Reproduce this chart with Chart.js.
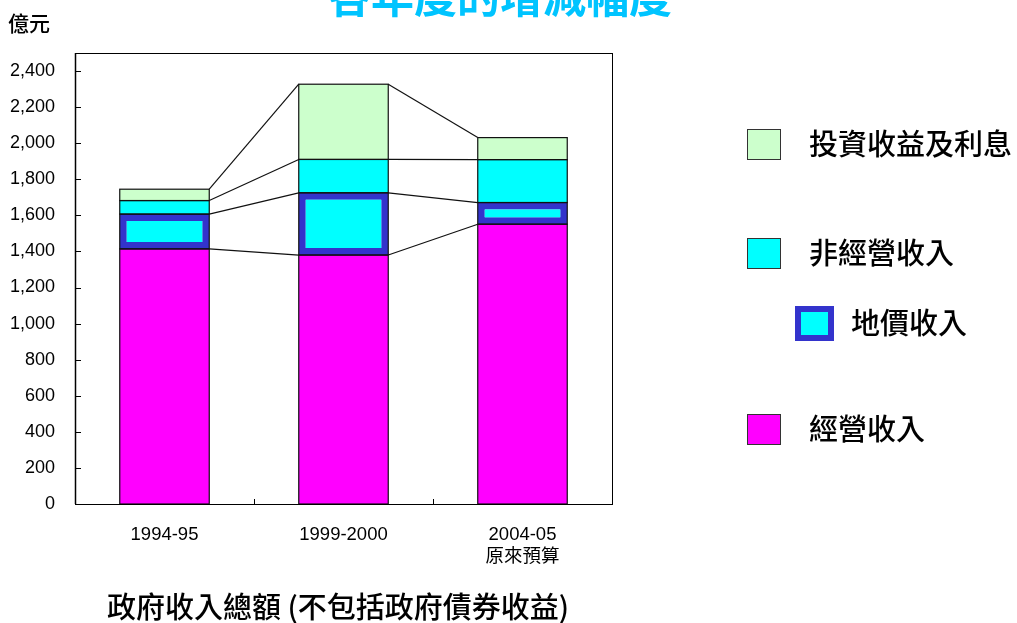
<!DOCTYPE html>
<html>
<head>
<meta charset="utf-8">
<script src="https://cdn.jsdelivr.net/npm/chart.js@4.4.0/dist/chart.umd.min.js"></script>
<style>
  html, body { margin: 0; padding: 0; background: #fff; overflow: hidden; }
</style>
</head>
<body>
<canvas id="chart" width="1017" height="623"></canvas>
<script>
// 數據 (億元)
const categories = [['1994-95'], ['1999-2000'], ['2004-05', '原來預算']];
const operatingRevenue = [1414, 1380, 1551];
const landPremium = [193, 345, 120];
const nonOperatingRevenue = [75, 185, 238];
const investmentIncome = [63, 417, 122];
const yTicks = [0, 200, 400, 600, 800, 1000, 1200, 1400, 1600, 1800, 2000, 2200, 2400];
const yMax = 2500;

const chartTitle = '各年度的增減幅度';
const yUnit = '億元';
const xTitle = '政府收入總額 (不包括政府債券收益)';

const CJK = '"Noto Sans CJK TC", "Noto Sans CJK SC", sans-serif';
const LATIN = '"Liberation Sans", Arial, "Noto Sans CJK TC", sans-serif';

// 框線及刻度
const framePlugin = {
  id: 'frame',
  afterDraw(chart) {
    const { ctx, chartArea: a, scales } = chart;
    ctx.save();
    ctx.strokeStyle = '#000';
    ctx.lineWidth = 1;
    ctx.strokeRect(a.left + 0.5, a.top + 0.5, a.right - a.left, a.bottom - a.top);
    ctx.beginPath();
    ctx.lineWidth = 1.5;
    ctx.moveTo(a.left + 0.5, a.top);
    ctx.lineTo(a.left + 0.5, a.bottom);
    ctx.stroke();

    ctx.lineWidth = 1;
    ctx.beginPath();
    scales.y.ticks.forEach(t => {
      if (t.value === 0) return;
      const y = Math.round(scales.y.getPixelForValue(t.value)) + 0.5;
      ctx.moveTo(a.left, y);
      ctx.lineTo(a.left + 6, y);
    });
    for (let i = 0; i < categories.length - 1; i++) {
      const x = Math.round((scales.x.getPixelForValue(i) + scales.x.getPixelForValue(i + 1)) / 2) + 0.5;
      ctx.moveTo(x, a.bottom);
      ctx.lineTo(x, a.bottom - 5);
    }
    ctx.stroke();
    ctx.restore();
  }
};

// 連接線及柱邊
const connectorPlugin = {
  id: 'connectors',
  afterDatasetsDraw(chart) {
    const { ctx } = chart;
    ctx.save();
    ctx.strokeStyle = '#111';
    ctx.lineWidth = 1.2;
    chart.data.datasets.forEach((ds, d) => {
      const bars = chart.getDatasetMeta(d).data;
      for (let i = 0; i < bars.length - 1; i++) {
        const a = bars[i], b = bars[i + 1];
        ctx.beginPath();
        ctx.moveTo(a.x + a.width / 2, a.y);
        ctx.lineTo(b.x - b.width / 2, b.y);
        ctx.stroke();
      }
      bars.forEach(bar => {
        ctx.strokeRect(bar.x - bar.width / 2, bar.y, bar.width, bar.base - bar.y);
      });
    });
    ctx.restore();
  }
};

// 標題、單位及圖例
const textPlugin = {
  id: 'texts',
  afterDraw(chart) {
    const { ctx } = chart;
    ctx.save();
    ctx.textBaseline = 'middle';

    ctx.fillStyle = '#00c4ff';
    ctx.font = 'bold 43px ' + CJK;
    ctx.textAlign = 'center';
    ctx.fillText(chartTitle, 500, -3);

    ctx.fillStyle = '#000';
    ctx.font = '500 21px ' + CJK;
    ctx.textAlign = 'left';
    ctx.fillText(yUnit, 8, 23);

    ctx.font = '500 29px ' + CJK;
    ctx.textAlign = 'center';
    ctx.fillText(xTitle, 338, 607);

    const legendPos = [
      { d: 3, box: [747, 129, 33, 30], tx: 809, ty: 144 },
      { d: 2, box: [747, 238, 33, 30], tx: 809, ty: 253 },
      { d: 1, box: [795, 306, 39, 35], tx: 851, ty: 323 },
      { d: 0, box: [747, 414, 33, 30], tx: 809, ty: 429 }
    ];
    ctx.textAlign = 'left';
    ctx.font = '500 29px ' + CJK;
    legendPos.forEach(p => {
      const ds = chart.data.datasets[p.d];
      const [x, y, w, h] = p.box;
      if (p.d === 1) {
        ctx.fillStyle = ds.borderColor;
        ctx.fillRect(x, y, w, h);
        ctx.fillStyle = ds.backgroundColor;
        ctx.fillRect(x + 6, y + 6, w - 12, h - 12);
      } else {
        ctx.fillStyle = ds.backgroundColor;
        ctx.fillRect(x, y, w, h);
        ctx.strokeStyle = '#333';
        ctx.lineWidth = 1;
        ctx.strokeRect(x + 0.5, y + 0.5, w, h);
      }
      ctx.fillStyle = '#000';
      ctx.fillText(ds.label, p.tx, p.ty);
    });
    ctx.restore();
  }
};

new Chart(document.getElementById('chart'), {
  type: 'bar',
  data: {
    labels: categories,
    datasets: [
      { label: '經營收入', data: operatingRevenue, backgroundColor: '#ff00ff', borderColor: '#222', borderWidth: 0, borderSkipped: false },
      { label: '地價收入', data: landPremium, backgroundColor: '#00ffff', borderColor: '#3333cc', borderWidth: 7, borderSkipped: false },
      { label: '非經營收入', data: nonOperatingRevenue, backgroundColor: '#00ffff', borderColor: '#222', borderWidth: 0, borderSkipped: false },
      { label: '投資收益及利息', data: investmentIncome, backgroundColor: '#ccffcc', borderColor: '#222', borderWidth: 0, borderSkipped: false }
    ]
  },
  options: {
    responsive: false,
    animation: false,
    layout: { padding: { left: 0, top: 53, right: 405, bottom: 0 } },
    datasets: { bar: { barPercentage: 0.5, categoryPercentage: 1 } },
    plugins: { legend: { display: false }, tooltip: { enabled: false }, title: { display: false } },
    scales: {
      x: {
        stacked: true,
        grid: { display: false, drawTicks: false },
        border: { display: false },
        ticks: { color: '#000', font: { family: LATIN, size: 18.5 }, padding: 20, maxRotation: 0, autoSkip: false },
        afterFit(scale) { scale.height = 119; }
      },
      y: {
        stacked: true,
        min: 0,
        max: yMax,
        grid: { display: false, drawTicks: false },
        border: { display: false },
        afterBuildTicks(scale) { scale.ticks = yTicks.map(v => ({ value: v })); },
        ticks: {
          color: '#000',
          font: { family: LATIN, size: 18 },
          padding: 20,
          callback: v => v.toLocaleString('en-US')
        },
        afterFit(scale) { scale.width = 75; }
      }
    }
  },
  plugins: [connectorPlugin, framePlugin, textPlugin]
});
</script>
</body>
</html>
